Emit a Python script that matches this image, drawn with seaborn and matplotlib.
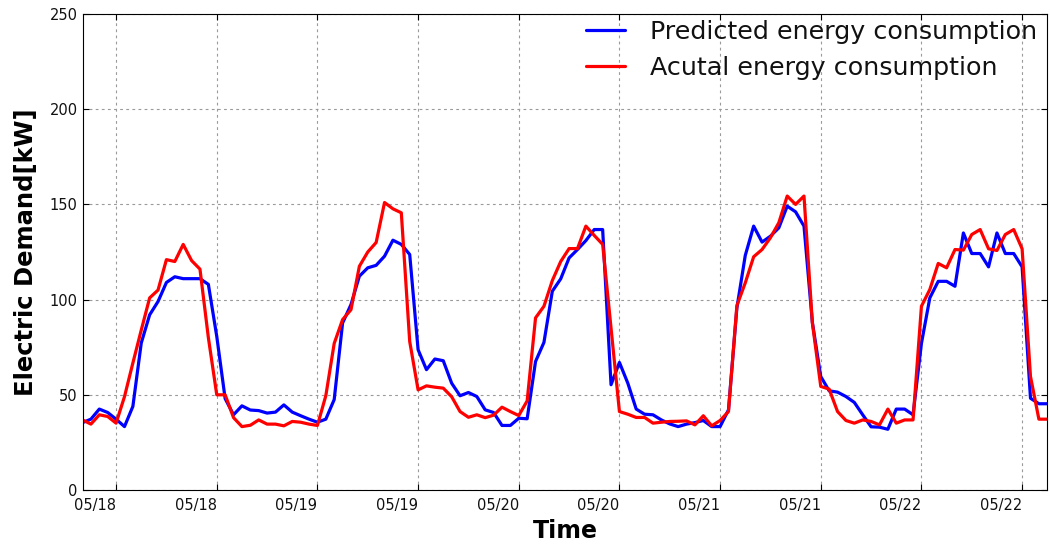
import numpy as np
import pandas as pd
import matplotlib
matplotlib.use("Agg")
import matplotlib.pyplot as plt
import matplotlib.dates as mdates
import seaborn as sns

start_time = "2016-05-17 20:00"

predicted = [
    35.4, 37.2, 42.5, 40.7, 37.2, 33.3, 43.9, 77.2, 92.0, 99.0,
    109.0, 112.0, 111.0, 111.0, 111.0, 108.0, 80.7, 48.0, 39.5, 44.2,
    42.0, 41.7, 40.4, 40.9, 44.7, 40.9, 39.0, 37.2, 35.6, 37.2,
    47.5, 87.7, 97.4, 112.3, 116.7, 118.0, 122.8, 131.2, 129.0, 123.7,
    73.7, 63.2, 68.8, 67.9, 56.1, 49.5, 51.2, 49.1, 42.1, 40.7,
    33.9, 33.9, 37.7, 37.4, 67.5, 77.5, 104.4, 110.9, 121.9, 126.3,
    131.0, 136.8, 136.8, 55.3, 67.0, 56.1, 42.5, 39.8, 39.5, 36.8,
    34.7, 33.3, 34.6, 35.4, 36.5, 33.3, 33.3, 42.1, 95.6, 123.2,
    138.6, 130.2, 133.3, 137.7, 149.1, 146.1, 138.6, 88.0, 59.6, 52.1,
    51.4, 49.1, 46.0, 39.5, 33.2, 33.0, 31.9, 42.5, 42.5, 39.5,
    77.0, 100.9, 109.6, 109.6, 107.0, 135.0, 124.2, 124.2, 117.2, 135.0,
    124.2, 124.2, 117.2, 48.2, 45.3, 45.3,
]

actual = [
    36.8, 34.6, 39.5, 38.6, 35.1, 49.0, 66.7, 84.0, 100.9, 105.0,
    121.0, 120.0, 129.0, 120.5, 116.0, 80.0, 50.0, 50.0, 38.0, 33.3,
    34.0, 36.8, 34.6, 34.6, 33.7, 36.0, 35.6, 34.6, 33.9, 49.5,
    77.0, 89.5, 94.7, 117.5, 125.0, 130.0, 151.0, 147.7, 145.6, 78.0,
    52.6, 54.7, 54.0, 53.5, 49.0, 41.2, 38.2, 39.5, 38.0, 39.3,
    43.5, 41.2, 39.1, 46.8, 90.4, 96.5, 110.0, 120.0, 126.8, 126.8,
    138.6, 133.7, 129.0, 85.0, 41.2, 39.8, 38.1, 38.1, 35.1, 35.6,
    36.0, 36.1, 36.3, 34.2, 39.0, 33.7, 36.5, 41.2, 96.8, 108.8,
    122.5, 126.3, 132.5, 140.4, 154.4, 150.0, 154.4, 87.7, 54.4, 53.0,
    41.2, 36.5, 35.1, 36.8, 36.0, 34.2, 42.5, 35.1, 36.8, 36.8,
    96.5, 105.3, 119.0, 116.7, 126.3, 126.0, 134.2, 136.8, 126.7, 125.8,
    134.2, 136.8, 126.7, 59.6, 37.2, 37.2,
]

series_names = ["Predicted energy consumption", "Acutal energy consumption"]
series_colors = ["#0000ff", "#ff0000"]

times = pd.date_range(start_time, periods=len(predicted), freq="h")

df = pd.concat([
    pd.DataFrame({"Time": times, "Demand": predicted, "Series": series_names[0]}),
    pd.DataFrame({"Time": times, "Demand": actual, "Series": series_names[1]}),
], ignore_index=True)

sns.set_style("ticks", rc={
    "axes.edgecolor": "black",
    "axes.linewidth": 1.2,
    "axes.labelcolor": "black",
    "text.color": "black",
    "xtick.color": "black",
    "ytick.color": "black",
    "xtick.direction": "in",
    "ytick.direction": "in",
    "xtick.top": True,
    "ytick.right": True,
})
plt.rcParams["font.family"] = ["DejaVu Sans"]

fig = plt.figure(figsize=(10.5, 5.5), dpi=100)
ax = fig.add_axes([0.0786, 0.1091, 0.9974 - 0.0786, 0.9745 - 0.1091])

sns.lineplot(data=df, x="Time", y="Demand", hue="Series",
             hue_order=series_names, palette=series_colors,
             linewidth=2.3, ax=ax, legend=True)

ax.set_xlim(times[0], times[-1])
ax.set_ylim(0, 250)
ax.set_yticks([0, 50, 100, 150, 200, 250])
ax.xaxis.set_major_locator(mdates.HourLocator(byhour=[0, 12]))
ax.xaxis.set_major_formatter(mdates.DateFormatter("%m/%d"))
ax.tick_params(axis="both", labelsize=10.5, length=4, width=0.8,
               colors="black", labelcolor="#111111")
ax.tick_params(axis="x", pad=6)
for lbl in ax.get_xticklabels():
    lbl.set_horizontalalignment("right")

ax.grid(True, color="#9a9a9a", linestyle=(0, (2.5, 3)), linewidth=0.8)

ax.set_xlabel("Time", fontsize=17, fontweight="bold", labelpad=4, color="black")
ax.set_ylabel("Electric Demand[kW]", fontsize=17.5, fontweight="bold",
              labelpad=8, color="black")

leg = ax.legend(loc="upper right", bbox_to_anchor=(1.0, 1.008),
                frameon=False, fontsize=18.3,
                handlelength=1.5, handletextpad=1.0, labelspacing=0.45,
                borderaxespad=0.2, borderpad=0.2)
for line in leg.get_lines():
    line.set_linewidth(2.3)
for t in leg.get_texts():
    t.set_color("#111111")

fig.savefig("out.png", dpi=100)
